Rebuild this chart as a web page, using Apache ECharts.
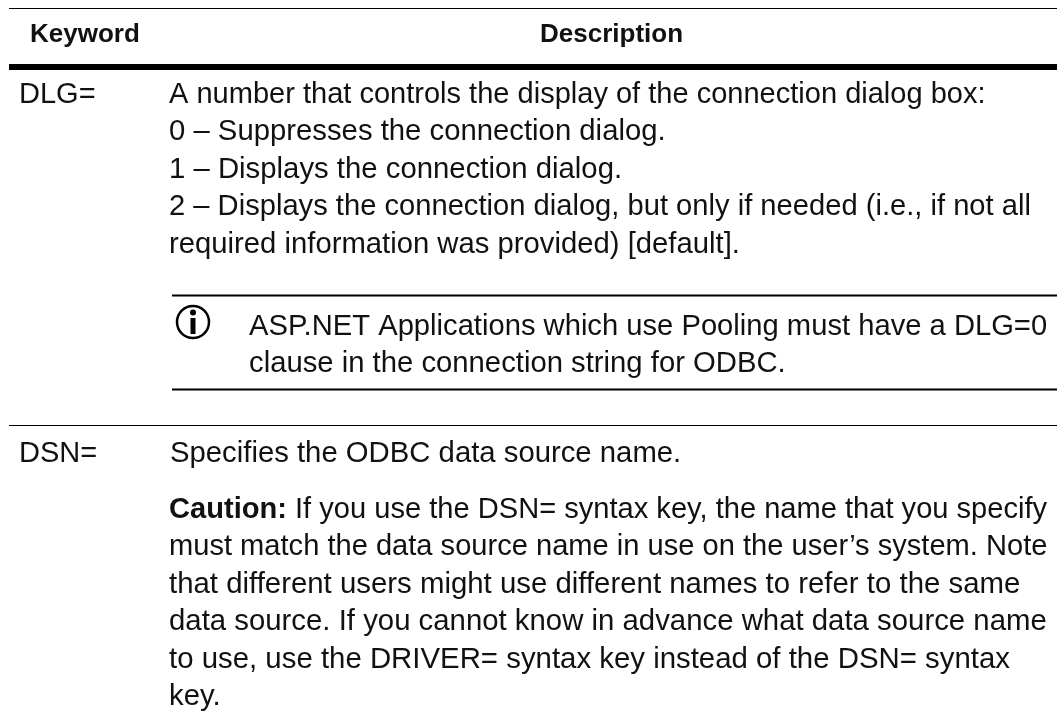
<!DOCTYPE html>
<html>
<head>
    <meta charset="utf-8">
    <title>Keyword table</title>
    <script src="https://cdn.jsdelivr.net/npm/echarts@6/dist/echarts.min.js"></script>
    <style>
        html, body { margin: 0; padding: 0; background: #fff; }
    </style>
</head>
<body>
    <div id="main" style="width: 1057px;height: 723px;"></div>
    <script type="text/javascript">
var headers = ['Keyword', 'Description'];
var keywords = ['DLG=', 'DSN='];
var dlgLines = [
    'A number that controls the display of the connection dialog box:',
    '0 – Suppresses the connection dialog.',
    '1 – Displays the connection dialog.',
    '2 – Displays the connection dialog, but only if needed (i.e., if not all',
    'required information was provided) [default].'
];
var noteLines = [
    'ASP.NET Applications which use Pooling must have a DLG=0',
    'clause in the connection string for ODBC.'
];
var dsnLine = 'Specifies the ODBC data source name.';
var cautionLabel = 'Caution:';
var cautionLines = [
    ' If you use the DSN= syntax key, the name that you specify',
    'must match the data source name in use on the user’s system. Note',
    'that different users might use different names to refer to the same',
    'data source. If you cannot know in advance what data source name',
    'to use, use the DRIVER= syntax key instead of the DSN= syntax',
    'key.'
];

var myChart = echarts.init(document.getElementById('main'));
var fontName = '"Liberation Sans", Arial, sans-serif';
var bodySize = 29;
var lineGap = 37.4;
var ink = '#111';

// 每行的水平微调，让行宽对上原图
var dlgStretch = [1.001, 1.01, 1.011, 1.005, 1.009];
var noteStretch = [1.006, 1.009];
var cautionStretch = [1.003, 1.003, 1.013, 1.012, 1.013, 1.01];

function label(x, y, str, opts) {
    opts = opts || {};
    return {
        type: 'text', x: x, y: y, scaleX: opts.stretch || 1,
        style: {
            text: str, fill: ink, font: (opts.bold ? 'bold ' : '') + (opts.size || bodySize) + 'px ' + fontName,
            textAlign: opts.align || 'left', textVerticalAlign: 'middle'
        }
    };
}
function rule(x1, y, x2, width) {
    return {
        type: 'line',
        shape: { x1: x1, y1: y, x2: x2, y2: y },
        style: { stroke: '#000', lineWidth: width }
    };
}

var items = [
    rule(9, 8.5, 1057, 1),
    rule(9, 67, 1057, 6),
    rule(172, 295.5, 1057, 2),
    rule(172, 389.5, 1057, 2),
    rule(9, 425.5, 1057, 1),
    label(30, 35, headers[0], { bold: true, size: 26 }),
    label(540, 35, headers[1], { bold: true, size: 26 }),
    label(19, 95, keywords[0]),
    label(19, 454, keywords[1]),
    label(170, 454, dsnLine, { stretch: 1.01 })
];
dlgLines.forEach(function (s, i) { items.push(label(169, 95 + i * lineGap, s, { stretch: dlgStretch[i] })); });
noteLines.forEach(function (s, i) { items.push(label(249, 327 + i * lineGap, s, { stretch: noteStretch[i] })); });

// 第一行有粗体前缀，用 rich text
items.push({
    type: 'text', x: 169, y: 510, scaleX: cautionStretch[0],
    style: {
        text: '{b|' + cautionLabel + '}{r|' + cautionLines[0] + '}',
        rich: {
            b: { fill: ink, font: 'bold ' + bodySize + 'px ' + fontName },
            r: { fill: ink, font: bodySize + 'px ' + fontName }
        },
        textVerticalAlign: 'middle'
    }
});
cautionLines.slice(1).forEach(function (s, i) {
    items.push(label(169, 510 + (i + 1) * lineGap, s, { stretch: cautionStretch[i + 1] }));
});

// info 图标
items.push(
    { type: 'circle', shape: { cx: 193, cy: 322, r: 16 }, style: { fill: 'none', stroke: '#000', lineWidth: 2.5 } },
    { type: 'circle', shape: { cx: 193, cy: 312.5, r: 3 }, style: { fill: '#000' } },
    { type: 'rect', shape: { x: 190.5, y: 318, width: 5, height: 16 }, style: { fill: '#000' } }
);

myChart.setOption({
    backgroundColor: '#fff',
    graphic: { elements: items }
});
    </script>
</body>
</html>
